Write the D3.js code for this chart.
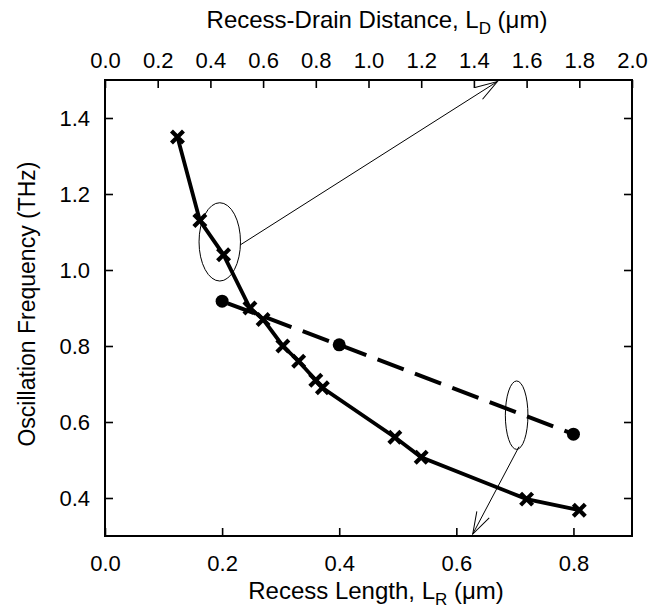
<!DOCTYPE html>
<html>
<head>
<meta charset="utf-8">
<script src="https://cdn.jsdelivr.net/npm/d3@7"></script>
<style>
  body { margin: 0; background: #fff; }
  text { font-family: "Liberation Sans", Arial, sans-serif; fill: #000; }
</style>
</head>
<body>
<svg id="chart" width="654" height="616"></svg>
<script>
// solid curve, plotted against the top axis (recess-drain distance L_D)
const ldValues = [0.275, 0.36, 0.45, 0.55, 0.6, 0.675, 0.735, 0.8, 0.825, 1.1, 1.2, 1.6, 1.8]
const ldFreq = [1.35, 1.13, 1.04, 0.9, 0.87, 0.8, 0.76, 0.71, 0.69, 0.56, 0.507, 0.397, 0.368]

// dashed curve, plotted against the bottom axis (recess length L_R)
const lrValues = [0.2, 0.4, 0.8]
const lrFreq = [0.918, 0.803, 0.568]

const bottomTicks = [0.0, 0.2, 0.4, 0.6, 0.8]
const topTicks = [0.0, 0.2, 0.4, 0.6, 0.8, 1.0, 1.2, 1.4, 1.6, 1.8, 2.0]
const yTicks = [0.4, 0.6, 0.8, 1.0, 1.2, 1.4]

let svg = d3.select("#chart")
const pLeft = 105, pRight = 632, pTop = 80, pBottom = 536

const xB = d3.scaleLinear().domain([0, 0.9]).range([pLeft, pRight])
const xT = d3.scaleLinear().domain([0, 2.0]).range([pLeft, pRight])
const y = d3.scaleLinear().domain([0.3, 1.5]).range([pBottom, pTop])

// axes, ticks pointing inward
svg.append("g").attr("transform", "translate(0," + pBottom + ")")
  .call(d3.axisBottom(xB).tickValues(bottomTicks).tickFormat(d3.format(".1f")).tickSizeInner(-8).tickSizeOuter(0).tickPadding(19))
svg.append("g").attr("transform", "translate(0," + pTop + ")")
  .call(d3.axisTop(xT).tickValues(topTicks).tickFormat(d3.format(".1f")).tickSizeInner(-8).tickSizeOuter(0).tickPadding(12))
svg.append("g").attr("transform", "translate(" + pLeft + ",0)")
  .call(d3.axisLeft(y).tickValues(yTicks).tickFormat(d3.format(".1f")).tickSizeInner(-8).tickSizeOuter(0).tickPadding(15))
svg.append("g").attr("transform", "translate(" + pRight + ",0)")
  .call(d3.axisRight(y).tickValues(yTicks).tickFormat("").tickSizeInner(-8).tickSizeOuter(0))

svg.selectAll(".domain").remove()
svg.selectAll(".tick line").attr("stroke", "#000").attr("stroke-width", 1.6)
svg.selectAll(".tick text").attr("font-size", "22px").attr("font-family", "Liberation Sans, Arial, sans-serif").attr("fill", "#000")

svg.append("rect")
  .attr("x", pLeft).attr("y", pTop)
  .attr("width", pRight - pLeft).attr("height", pBottom - pTop)
  .attr("fill", "none").attr("stroke", "#000").attr("stroke-width", 2)

// axis titles
let tb = svg.append("text").attr("x", 376).attr("y", 599)
  .attr("text-anchor", "middle").attr("font-size", "24px")
tb.append("tspan").text("Recess Length, L")
tb.append("tspan").text("R").attr("font-size", "17px").attr("dy", 6)
tb.append("tspan").text(" (\u03bcm)").attr("dy", -6)

let tt = svg.append("text").attr("x", 377).attr("y", 28)
  .attr("text-anchor", "middle").attr("font-size", "24px")
tt.append("tspan").text("Recess-Drain Distance, L")
tt.append("tspan").text("D").attr("font-size", "17px").attr("dy", 6)
tt.append("tspan").text(" (\u03bcm)").attr("dy", -6)

svg.append("text")
  .attr("transform", "translate(35," + ((pTop + pBottom) / 2 - 4) + ") rotate(-90)")
  .attr("text-anchor", "middle").attr("font-size", "23px")
  .text("Oscillation Frequency (THz)")

// solid curve with x markers
const ldData = ldValues.map((v, i) => ({ x: v, y: ldFreq[i] }))
svg.append("path").datum(ldData)
  .attr("d", d3.line().x(d => xT(d.x)).y(d => y(d.y)))
  .attr("fill", "none").attr("stroke", "#000").attr("stroke-width", 3.8)
svg.append("g").selectAll("path").data(ldData).join("path")
  .attr("d", "M-6,-6L6,6M-6,6L6,-6")
  .attr("transform", d => "translate(" + xT(d.x) + "," + y(d.y) + ")")
  .attr("stroke", "#000").attr("stroke-width", 4.2)

// dashed curve with dots
const lrData = lrValues.map((v, i) => ({ x: v, y: lrFreq[i] }))
svg.append("path").datum(lrData)
  .attr("d", d3.line().x(d => xB(d.x)).y(d => y(d.y)))
  .attr("fill", "none").attr("stroke", "#000").attr("stroke-width", 4)
  .attr("stroke-dasharray", "28,12").attr("stroke-dashoffset", -6)
svg.append("g").selectAll("circle").data(lrData).join("circle")
  .attr("cx", d => xB(d.x)).attr("cy", d => y(d.y)).attr("r", 6.5)
  .attr("fill", "#000")

// ellipse + arrow annotations, in data units
svg.append("defs").append("marker")
  .attr("id", "arr").attr("markerUnits", "userSpaceOnUse")
  .attr("markerWidth", 30).attr("markerHeight", 20)
  .attr("viewBox", "-26 -10 30 20").attr("refX", 0).attr("refY", 0)
  .attr("orient", "auto")
  .append("path").attr("d", "M-22,-7L0,0L-22,7")
  .attr("fill", "none").attr("stroke", "#000").attr("stroke-width", 1)

svg.append("ellipse")
  .attr("cx", xB(0.196)).attr("cy", y(1.074))
  .attr("rx", xB(0.196) - xB(0.1606)).attr("ry", y(1.074) - y(1.177))
  .attr("fill", "none").attr("stroke", "#000").attr("stroke-width", 1)
svg.append("line")
  .attr("x1", xB(0.231)).attr("y1", y(1.066))
  .attr("x2", xT(1.489)).attr("y2", y(1.496))
  .attr("stroke", "#000").attr("stroke-width", 1).attr("marker-end", "url(#arr)")

svg.append("ellipse")
  .attr("cx", xB(0.703)).attr("cy", y(0.618))
  .attr("rx", xB(0.703) - xB(0.6837)).attr("ry", y(0.618) - y(0.708))
  .attr("fill", "none").attr("stroke", "#000").attr("stroke-width", 1)
svg.append("line")
  .attr("x1", xB(0.707)).attr("y1", y(0.535))
  .attr("x2", xB(0.628)).attr("y2", y(0.305))
  .attr("stroke", "#000").attr("stroke-width", 1).attr("marker-end", "url(#arr)")
</script>
</body>
</html>
